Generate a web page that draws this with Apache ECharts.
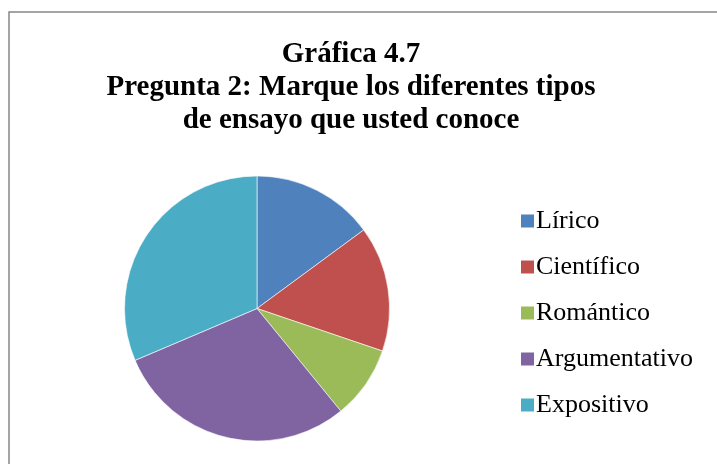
<!DOCTYPE html>
<html>
<head>
<meta charset="utf-8">
<script src="https://cdn.jsdelivr.net/npm/echarts@6/dist/echarts.min.js"></script>
<style>
  html, body { margin: 0; padding: 0; background: #fff; }
  #chart { width: 717px; height: 464px; }
</style>
</head>
<body>
<div id="chart"></div>
<script>
var categories = ['Lírico', 'Científico', 'Romántico', 'Argumentativo', 'Expositivo'];
var values = [14.9, 15.3, 8.9, 29.5, 31.4];
var colors = ['#4F81BD', '#C0504D', '#9BBB59', '#8064A2', '#4BACC6'];
var titleLines = ['Gráfica 4.7', 'Pregunta 2: Marque los diferentes tipos', 'de ensayo que usted conoce'];

var chart = echarts.init(document.getElementById('chart'));

var pieData = categories.map(function (name, i) {
    return { name: name, value: values[i], itemStyle: { color: colors[i] } };
});

var options = {
    animation: false,
    backgroundColor: '#fff',
    graphic: [{
        type: 'rect',
        shape: { x: 9, y: 12, width: 800, height: 600 },
        style: { fill: 'none', stroke: '#868686', lineWidth: 1.5 },
        silent: true
    }],
    title: {
        text: titleLines.join('\n'),
        left: 346,
        top: 33,
        textAlign: 'center',
        textStyle: {
            fontFamily: 'Liberation Serif',
            fontWeight: 'bold',
            fontSize: 29,
            lineHeight: 33,
            color: '#000'
        }
    },
    legend: {
        orient: 'vertical',
        left: 516,
        top: 203,
        icon: 'rect',
        itemWidth: 13,
        itemHeight: 13,
        itemGap: 20,
        itemStyle: { borderWidth: 0 },
        textStyle: {
            fontFamily: 'Liberation Serif',
            fontSize: 26,
            lineHeight: 26,
            color: '#000',
            padding: [0, 0, 0, -3]
        },
        data: categories
    },
    series: [{
        type: 'pie',
        center: [257, 308.5],
        radius: 132.5,
        startAngle: 90,
        clockwise: true,
        label: { show: false },
        labelLine: { show: false },
        itemStyle: { borderColor: '#fff', borderWidth: 0.6 },
        emphasis: { disabled: true },
        data: pieData
    }]
};

chart.setOption(options);
</script>
</body>
</html>
